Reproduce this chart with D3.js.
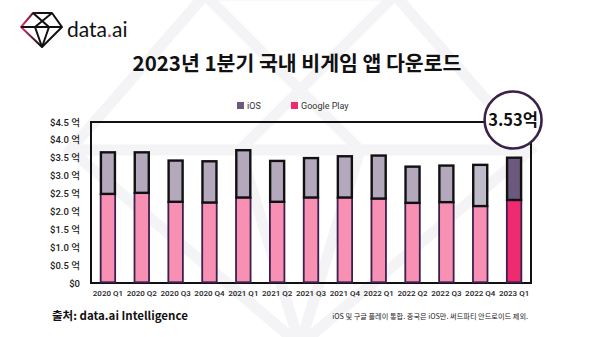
<!DOCTYPE html>
<html><head><meta charset="utf-8">
<script src="https://cdn.jsdelivr.net/npm/d3@7"></script>
<style>body{margin:0;background:#fff}svg{display:block;font-family:"Noto Sans CJK KR","Noto Sans",sans-serif}</style>
</head><body>
<script>
const categories = ["2020 Q1","2020 Q2","2020 Q3","2020 Q4","2021 Q1","2021 Q2","2021 Q3","2021 Q4","2022 Q1","2022 Q2","2022 Q3","2022 Q4","2023 Q1"];
const googlePlay = [2.49,2.52,2.27,2.25,2.39,2.27,2.39,2.39,2.36,2.24,2.26,2.15,2.32];
const ios = [1.19,1.16,1.18,1.18,1.35,1.17,1.13,1.18,1.23,1.04,1.05,1.18,1.21];
const yTicks = [0,0.5,1.0,1.5,2.0,2.5,3.0,3.5,4.0,4.5];
const highlightLabel = "3.53억";
const title = "2023년 1분기 국내 비게임 앱 다운로드";
const source = "출처: data.ai Intelligence";
const note = "iOS 및 구글 플레이 통합. 중국은 iOS만. 써드파티 안드로이드 제외.";

const W=600,H=337;
const svg=d3.select("body").append("svg").attr("width",W).attr("height",H);

// watermark
const wm=svg.append("g").attr("fill","none").attr("stroke","#f4f4f6").attr("stroke-width",11).attr("stroke-linejoin","miter");
wm.append("path").attr("d","M205,-5 L395,-5 L530,150 L300,345 L70,150 Z");
wm.append("path").attr("d","M205,-5 L360,150 L300,345 L240,150 L395,-5");
wm.append("path").attr("d","M70,150 L530,150");

// logo
const lg=svg.append("g").attr("fill","none").attr("stroke-width",2).attr("stroke-linejoin","round");
const grad=svg.append("defs").append("linearGradient").attr("id","lgr").attr("x1",0).attr("x2",1);
grad.append("stop").attr("offset","0").attr("stop-color","#e8336f");
grad.append("stop").attr("offset","0.45").attr("stop-color","#111");
lg.append("path").attr("stroke","url(#lgr)").attr("d","M33,13 L52,13 L62,27 L42,47 L21,27 Z");
lg.append("path").attr("stroke","#111").attr("d","M33,13 L49,27 M52,13 L35,27 M21,27 L62,27 M35,27 L42,47 M49,27 L42,47");
const lt=svg.append("text").attr("x",67).attr("y",37).attr("font-family","Lato, 'Noto Sans', sans-serif").attr("font-size",21).attr("fill","#111");
lt.append("tspan").text("data");
lt.append("tspan").attr("fill","#e8336f").text(".");
lt.append("tspan").text("ai");

// title
svg.append("text").attr("x",297).attr("y",71).attr("text-anchor","middle").attr("font-size",20.5).attr("font-weight",700).attr("fill","#111").text(title);

// legend
const leg=[{n:"iOS",c:"#6b5a7e",x:237},{n:"Google Play",c:"#ef2a6f",x:291}];
leg.forEach(d=>{
  svg.append("rect").attr("x",d.x).attr("y",102).attr("width",7).attr("height",7).attr("fill",d.c);
  svg.append("text").attr("x",d.x+10).attr("y",109).attr("font-family","Roboto, 'Noto Sans', sans-serif").attr("font-size",9).attr("fill","#333").text(d.n);
});

// scales
const x=d3.scaleBand().domain(categories).range([91,531]).paddingInner(0.527).paddingOuter(0.2635);
const y=d3.scaleLinear().domain([0,4.5]).range([283,122]);

// y axis labels
const ya=svg.append("g").attr("transform","translate(80,0)").call(d3.axisLeft(y).tickValues(yTicks).tickSize(0).tickPadding(0).tickFormat(d=>d===0?"$0":"$"+d.toFixed(1)+" 억"));
ya.select(".domain").remove();
ya.selectAll("text").attr("font-family","Roboto, 'Noto Sans CJK KR', sans-serif").attr("font-size",9.5).attr("font-weight",500).attr("fill","#222");

// x axis labels
const xa=svg.append("g").attr("transform","translate(0,290)").call(d3.axisBottom(x).tickSize(0).tickPadding(0));
xa.select(".domain").remove();
xa.selectAll("text").attr("font-family","Roboto, 'Noto Sans', sans-serif").attr("font-size",8).attr("font-weight",500).attr("fill","#222").attr("dy","0.71em");

// frame
svg.append("rect").attr("x",91).attr("y",122).attr("width",440).attr("height",161).attr("fill","none").attr("stroke","#111").attr("stroke-width",2);

// bars
const iosFill=(i)=>i===12?"#6b5a7e":(i===11?"#bcbdc9":"#b4a9bc");
const gpFill=(i)=>i===12?"#ef2a6f":"#f890b4";
const bw=x.bandwidth();
const bars=svg.append("g");
categories.forEach((c,i)=>{
  const x0=x(c);
  bars.append("rect").attr("x",x0+0.75).attr("width",bw-1.5).attr("y",y(googlePlay[i])).attr("height",y(0)-y(googlePlay[i])-0.75)
    .attr("fill",gpFill(i)).attr("stroke","#3b1f4f").attr("stroke-width",1.8);
  const tot=googlePlay[i]+ios[i];
  bars.append("rect").attr("x",x0+1).attr("width",bw-2).attr("y",y(tot)+1).attr("height",y(googlePlay[i])-y(tot)-1)
    .attr("fill",iosFill(i)).attr("stroke","#111").attr("stroke-width",2.4);
});

// highlight circle
const cx=x(categories[12])+bw/2-1;
svg.append("circle").attr("cx",cx).attr("cy",120).attr("r",28.5).attr("fill","#fff").attr("stroke","#3a2148").attr("stroke-width",2.6);
svg.append("text").attr("x",cx).attr("y",126).attr("text-anchor","middle").attr("font-size",16.5).attr("font-weight",700).attr("fill","#111").text(highlightLabel);

// footer
svg.append("text").attr("x",52).attr("y",320).attr("font-size",11.5).attr("font-weight",700).attr("fill","#111").text(source);
svg.append("text").attr("x",528).attr("y",319).attr("text-anchor","end").attr("font-size",7.2).attr("fill","#222").text(note);
</script>
</body></html>
